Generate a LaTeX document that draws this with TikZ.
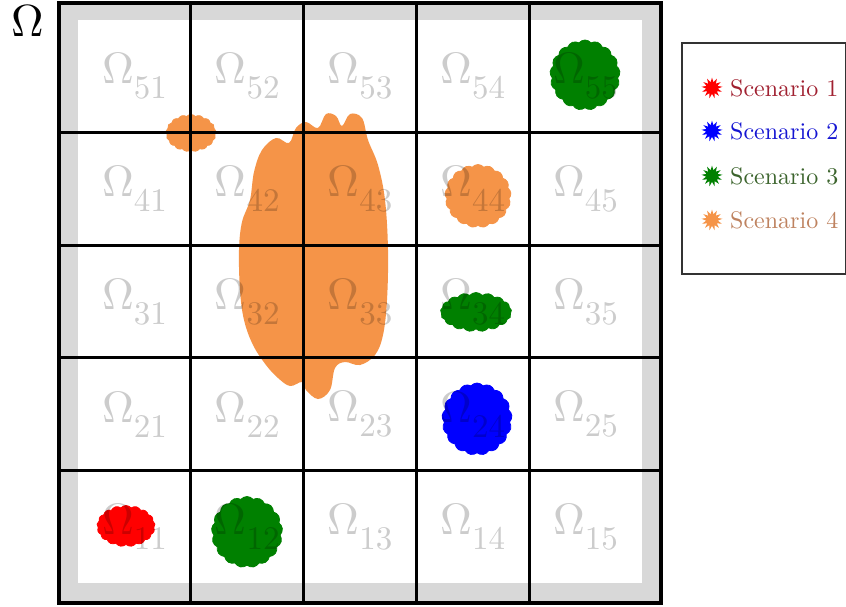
\documentclass[tikz,border=0pt]{standalone}
\usepackage{fontspec}
\setmainfont{lmroman10-regular.otf}
\usetikzlibrary{shapes.symbols,shapes.geometric}
\definecolor{bandgrey}{RGB}{216,216,216}
\definecolor{sorange}{RGB}{245,148,72}
\definecolor{sgreen}{RGB}{0,128,0}
\definecolor{sblue}{RGB}{0,0,255}
\definecolor{sred}{RGB}{255,0,0}
\definecolor{tred}{RGB}{160,32,48}
\definecolor{tblue}{RGB}{20,20,210}
\definecolor{tgreen}{RGB}{60,100,45}
\definecolor{torange}{RGB}{190,130,95}
\newcommand{\omlabel}[1]{Ω\raisebox{-15pt}{\fontsize{33}{38}\selectfont #1}}
\begin{document}
\begin{tikzpicture}[x=1pt,y=-1pt,
  blob/.style={cloud, cloud puffs=17, cloud puff arc=100, cloud ignores aspect, inner sep=0pt, fill=#1, draw=#1, line width=0.8pt},
  cell/.style={font=\fontsize{44}{52}\selectfont, text=black, text opacity=0.2, inner sep=0pt},
  gridline/.style={line width=3.2pt, black},
  legstar/.style={star, star points=13, star point ratio=1.8, minimum size=21pt, inner sep=0pt, fill=#1, draw=none},
  legtext/.style={font=\fontsize{24}{29}\selectfont, anchor=west, inner sep=0pt}]
\useasboundingbox (0,0) rectangle (846,606);
% band and field
\fill[bandgrey] (59,3) rectangle (661,603);
\fill[white] (78,20) rectangle (642,583);
% blobs
\node[blob=sred, minimum width=58pt, minimum height=41pt] (b1) at (126,526) {};
\node[blob=sgreen, minimum width=71pt, minimum height=71pt] (b12) at (247,532) {};
\node[blob=sgreen, minimum width=70pt, minimum height=70pt] (b55) at (585,75) {};
\node[blob=sorange, minimum width=66pt, minimum height=63pt] (b44) at (478,196) {};
\node[blob=sgreen, minimum width=71pt, minimum height=39pt] (b34) at (476,312) {};
\node[blob=sblue, minimum width=70pt, minimum height=72pt] (b24) at (477,419) {};
\node[blob=sorange, minimum width=50pt, minimum height=37pt] (bs) at (191,133) {};
\fill[sorange] plot[smooth cycle, tension=0.6] coordinates {
 (250,200) (254,172) (262,150) (276,138) (289,143) (296,128) (306,122) (318,128)
 (326,114) (336,116) (342,126) (350,114) (362,118) (368,140) (378,165) (385,200)
 (388,250) (387,300) (383,335) (375,355) (360,365) (345,362) (335,368) (330,390)
 (318,399) (306,390) (302,382) (290,386) (278,378) (266,365) (253,345) (244,320)
 (240,290) (239,250) (242,222)};
% cell labels
\foreach \r in {1,...,5}{
  \foreach \c in {1,...,5}{
    \node[cell] (l\r\c) at ({78+112.8*(\c-0.5)},{583-112.6*(\r-0.5)}) {\omlabel{\r\c}};
  }
}
% grid
\draw[gridline] (59,3) rectangle (661,603);
\foreach \x in {190.8,303.6,416.4,529.2}{ \draw[gridline] (\x,3) -- (\x,603); }
\foreach \y in {132.6,245.2,357.8,470.4}{ \draw[gridline] (59,\y) -- (661,\y); }
% Omega
\node[font=\fontsize{45}{52}\selectfont, inner sep=0pt] (om) at (27.5,21) {Ω};
% legend
\draw[line width=1.2pt, black!80] (682,43) rectangle (845.4,274);
\node[legstar=sred] (s1) at (712,88) {};
\node[legstar=sblue] (s2) at (712,131) {};
\node[legstar=sgreen] (s3) at (712,176) {};
\node[legstar=sorange] (s4) at (712,220) {};
\node[legtext, text=tred] (t1) at (730,88) {Scenario 1};
\node[legtext, text=tblue] (t2) at (730,131) {Scenario 2};
\node[legtext, text=tgreen] (t3) at (730,176) {Scenario 3};
\node[legtext, text=torange] (t4) at (730,220) {Scenario 4};
\end{tikzpicture}
\end{document}
